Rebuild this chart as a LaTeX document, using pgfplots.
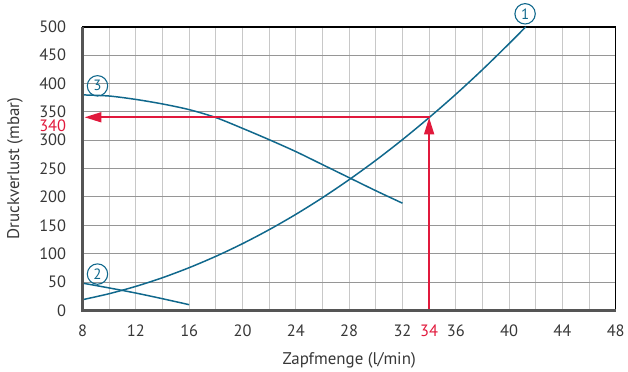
\documentclass[border=0pt]{standalone}
\usepackage{pgfplots}
\pgfplotsset{compat=1.18}
\usepackage{fontspec}
\setmainfont{PT Sans}
\usetikzlibrary{arrows.meta}
\definecolor{curve}{RGB}{16,104,140}
\definecolor{redarrow}{RGB}{225,25,60}
\definecolor{txt}{RGB}{55,55,55}
\definecolor{hgrid}{RGB}{150,150,150}
\definecolor{vgrid}{RGB}{200,200,200}
\definecolor{axgray}{RGB}{85,85,85}
\begin{document}
\begin{tikzpicture}
\begin{axis}[
  name=ax,
  scale only axis, width=536pt, height=285pt,
  xmin=8, xmax=48, ymin=0, ymax=500,
  xtick={8,12,...,48}, minor xtick={10,14,...,46},
  ytick={0,50,...,500},
  grid=both,
  major grid style={draw=vgrid, line width=1pt},
  minor grid style={draw=vgrid, line width=1pt},
  y grid style={draw=hgrid, line width=1pt},
  tick style={draw=none},
  axis line style={black, line width=1.5pt},
  /pgf/number format/assume math mode=true,
  tick label style={font=\fontsize{16.5}{19}\selectfont, text=txt},
  xticklabel style={yshift=-11pt},
  yticklabel style={xshift=-13pt},
  extra x ticks={34}, extra x tick labels={34},
  extra x tick style={grid=none, xticklabel style={text=redarrow}},
  extra y ticks={340}, extra y tick labels={340},
  extra y tick style={grid=none, yticklabel style={text=redarrow, yshift=-8pt}},
  xlabel={Zapfmenge (l/min)}, ylabel={Druckverlust (mbar)},
  every axis x label/.style={at={(axis description cs:0.5,-0.175)}, anchor=center, font=\fontsize{17}{19}\selectfont, text=txt},
  every axis y label/.style={at={(axis description cs:-0.127,0.5)}, rotate=90, anchor=center, font=\fontsize{17}{19}\selectfont, text=txt},
  clip=false,
]
% curve 1
\addplot[curve, line width=1.5pt, smooth] coordinates {
 (8,18.8) (10,29.4) (12,42.3) (14,57.6) (16,75.3) (18,95.3) (20,117.6)
 (22,142.3) (24,169.3) (26,198.7) (28,230.5) (30,264.6) (32,301.1)
 (34,340) (36,381) (38,424.5) (40,470.4) (41.25,500)};
% curve 3
\addplot[curve, line width=1.5pt, smooth] coordinates {
 (8,380) (10,378) (12,372) (14,364) (16,354) (18,340) (20,321)
 (22,301) (24,280) (26,257) (28,234) (30,211) (32,189)};
% curve 2
\addplot[curve, line width=1.5pt, smooth] coordinates {
 (8,48) (10,39.5) (12,30.5) (14,20.5) (16,10)};
% red arrows
\addplot[draw=redarrow, line width=2pt, line cap=butt] coordinates {(34.07,340.5) (9.6,340.5)};
\addplot[draw=redarrow, line width=2pt, -{Triangle[length=17pt, width=10pt]}] coordinates {(10,340.5) (8.15,340.5)};
\addplot[draw=redarrow, line width=2pt, -{Triangle[length=17pt, width=10pt]}] coordinates {(34,0) (34,340)};
% axis left/bottom
\draw[axgray, line width=2.4pt] (rel axis cs:0,1) -- (rel axis cs:0,0) -- (rel axis cs:1,0);
% circled labels
\node[circle, draw=curve, line width=1.1pt, text=curve, inner sep=0pt, minimum size=20.5pt, font=\fontsize{15}{16}\selectfont] at (axis cs:9.12,396) {3};
\node[circle, draw=curve, line width=1.1pt, text=curve, inner sep=0pt, minimum size=20.5pt, font=\fontsize{15}{16}\selectfont] at (axis cs:9.12,64) {2};
\node[circle, draw=curve, line width=1.1pt, text=curve, inner sep=0pt, minimum size=20.5pt, font=\fontsize{15}{16}\selectfont] at (axis cs:41.2,523) {1};
\end{axis}
\path (ax.south west) ++(-83pt,0) -- ++(0.1pt,0);
\path (ax.north west) ++(0,27pt) -- ++(0.1pt,0);
\end{tikzpicture}
\end{document}
